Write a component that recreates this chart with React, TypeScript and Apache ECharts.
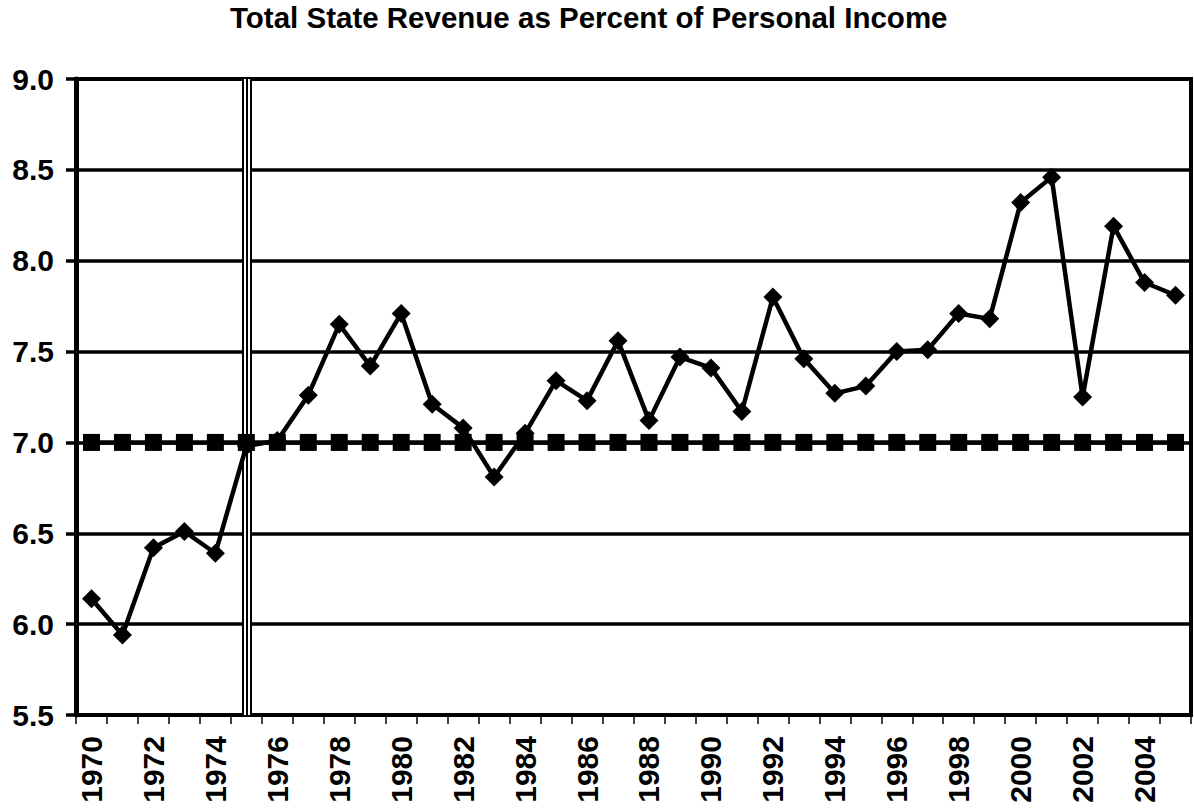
import React, { useEffect, useRef } from "react";
import * as echarts from "echarts";

const years = [
  "1970", "1971", "1972", "1973", "1974", "1975", "1976", "1977", "1978", "1979",
  "1980", "1981", "1982", "1983", "1984", "1985", "1986", "1987", "1988", "1989",
  "1990", "1991", "1992", "1993", "1994", "1995", "1996", "1997", "1998", "1999",
  "2000", "2001", "2002", "2003", "2004", "2005",
];

const revenuePct = [
  6.14, 5.94, 6.42, 6.51, 6.39, 6.98, 7.01, 7.26, 7.65, 7.42,
  7.71, 7.21, 7.08, 6.81, 7.05, 7.34, 7.23, 7.56, 7.12, 7.47,
  7.41, 7.17, 7.80, 7.46, 7.27, 7.31, 7.50, 7.51, 7.71, 7.68,
  8.32, 8.46, 7.25, 8.19, 7.88, 7.81,
];

const limitPct = [
  7.0, 7.0, 7.0, 7.0, 7.0, 7.0, 7.0, 7.0, 7.0, 7.0,
  7.0, 7.0, 7.0, 7.0, 7.0, 7.0, 7.0, 7.0, 7.0, 7.0,
  7.0, 7.0, 7.0, 7.0, 7.0, 7.0, 7.0, 7.0, 7.0, 7.0,
  7.0, 7.0, 7.0, 7.0, 7.0, 7.0,
];

const markerYear = "1975";

const titleText = "Total State Revenue as Percent of Personal Income";

const FONT = "'Liberation Sans', Arial, Helvetica, sans-serif";

export default function App() {
  const ref = useRef<HTMLDivElement>(null);

  useEffect(() => {
    if (!ref.current) return;
    const chart = echarts.init(ref.current, undefined, { renderer: "svg" });
    const vline = (color: string, width: number, z: number) => ({
      silent: true,
      z,
      symbol: "none",
      label: { show: false },
      lineStyle: { color, width, type: "solid" },
      data: [{ xAxis: markerYear }],
    });
    chart.setOption({
      animation: false,
      backgroundColor: "#ffffff",
      title: {
        text: titleText,
        left: 230,
        top: 2,
        padding: 0,
        textStyle: {
          fontFamily: FONT,
          fontSize: 29.5,
          fontWeight: "bold",
          color: "#000",
        },
      },
      grid: {
        left: 76,
        right: 3,
        top: 79,
        bottom: 94,
        show: true,
        borderColor: "#000",
        borderWidth: 4,
        backgroundColor: "transparent",
      },
      xAxis: {
        type: "category",
        data: years,
        boundaryGap: true,
        axisLine: { show: true, lineStyle: { color: "#000", width: 4 } },
        axisTick: {
          show: true,
          interval: 0,
          length: 9,
          lineStyle: { color: "#000", width: 1.5 },
        },
        axisLabel: {
          interval: 1,
          rotate: 90,
          margin: 21,
          fontFamily: FONT,
          fontSize: 30,
          fontWeight: "bold",
          color: "#000",
        },
        splitLine: { show: false },
      },
      yAxis: {
        type: "value",
        min: 5.5,
        max: 9.0,
        interval: 0.5,
        axisLine: { show: true, lineStyle: { color: "#000", width: 5 } },
        axisTick: {
          show: true,
          length: 10,
          lineStyle: { color: "#000", width: 3.5 },
        },
        axisLabel: {
          margin: 22,
          formatter: (v: number) => v.toFixed(1),
          fontFamily: FONT,
          fontSize: 30,
          fontWeight: "bold",
          color: "#000",
        },
        splitLine: { show: true, lineStyle: { color: "#000", width: 3.5 } },
      },
      series: [
        {
          name: "divider-outer",
          type: "line",
          data: [],
          z: 1,
          markLine: vline("#000", 10, 1),
        },
        {
          name: "divider-gap",
          type: "line",
          data: [],
          z: 2,
          markLine: vline("#fff", 6, 2),
        },
        {
          name: "divider-inner",
          type: "line",
          data: [],
          z: 2,
          markLine: vline("#000", 2, 2),
        },
        {
          name: "Limit",
          type: "line",
          data: limitPct,
          z: 3,
          symbol: "rect",
          symbolSize: 17,
          showSymbol: true,
          lineStyle: { color: "#000", width: 4.5 },
          itemStyle: { color: "#000", borderWidth: 0 },
        },
        {
          name: "Revenue",
          type: "line",
          data: revenuePct,
          z: 4,
          symbol: "diamond",
          symbolSize: [19, 19],
          showSymbol: true,
          lineStyle: { color: "#000", width: 4.5 },
          itemStyle: { color: "#000", borderWidth: 0 },
        },
      ],
    });
    return () => chart.dispose();
  }, []);

  return (
    <div
      ref={ref}
      style={{ position: "fixed", left: 0, top: 0, width: 1194, height: 809, background: "#fff" }}
    />
  );
}
